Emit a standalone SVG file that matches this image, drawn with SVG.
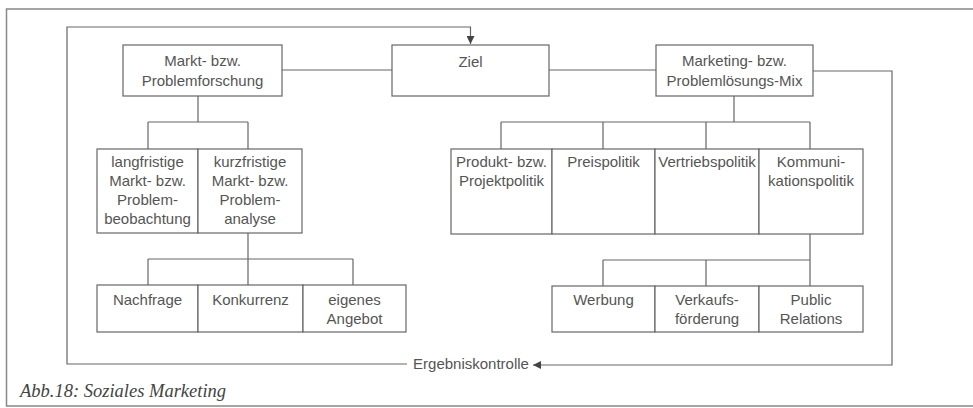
<svg xmlns="http://www.w3.org/2000/svg" width="973" height="408" viewBox="0 0 973 408">
<style>
.frame{fill:none;stroke:#888;stroke-width:1.5}
.box{fill:#fff;stroke:#666;stroke-width:1.2}
.ln{fill:none;stroke:#666;stroke-width:1.2}
.t{font-family:"Liberation Sans",Arial,sans-serif;font-size:15px;fill:#555;text-anchor:middle}
.cap{font-family:"Liberation Serif","Times New Roman",serif;font-size:18.5px;font-style:italic;fill:#444}
</style>
<defs>
<marker id="ah" viewBox="0 0 8 8" refX="8" refY="4" markerWidth="8" markerHeight="8" markerUnits="userSpaceOnUse" orient="auto">
<path d="M0,0 L8,4 L0,8 Z" fill="#444"/>
</marker>
</defs>
<rect width="973" height="408" fill="#fff"/>
<rect class="frame" x="6.5" y="9" width="1000" height="397"/>

<g id="connectors">
<path class="ln" d="M407,364 H67 V27 H470.5 V44" marker-end="url(#ah)"/>
<path class="ln" d="M282,70 H392"/>
<path class="ln" d="M549,70 H656"/>
<path class="ln" d="M813,71 H892 V365 H533" marker-end="url(#ah)"/>
<path class="ln" d="M198,96 V122 M148,122 H248 M148,122 V149 M248,122 V149"/>
<path class="ln" d="M248,233 V259 M148,259 H353 M148,259 V285 M248,259 V285 M353,259 V285"/>
<path class="ln" d="M734,96 V122 M501,122 H810 M501,122 V149 M603,122 V149 M706,122 V149 M810,122 V149"/>
<path class="ln" d="M810,234 V260 M603,260 H810 M603,260 V286 M706,260 V286 M810,260 V286"/>
</g>

<g id="markt">
<rect class="box" x="123" y="45" width="159" height="51"/>
<text class="t" x="202.5" y="66">Markt- bzw.</text>
<text class="t" x="202.5" y="86">Problemforschung</text>
</g>
<g id="ziel">
<rect class="box" x="392" y="45" width="157" height="51"/>
<text class="t" x="470.5" y="67">Ziel</text>
</g>
<g id="mix">
<rect class="box" x="656" y="45" width="157" height="51"/>
<text class="t" x="734.5" y="66">Marketing- bzw.</text>
<text class="t" x="734.5" y="86">Problemlösungs-Mix</text>
</g>

<g id="langfristig">
<rect class="box" x="97" y="149" width="101" height="84"/>
<text class="t" x="147.5" y="167">langfristige</text>
<text class="t" x="147.5" y="186">Markt- bzw.</text>
<text class="t" x="147.5" y="205">Problem-</text>
<text class="t" x="147.5" y="224">beobachtung</text>
</g>
<g id="kurzfristig">
<rect class="box" x="198" y="149" width="104" height="84"/>
<text class="t" x="250" y="167">kurzfristige</text>
<text class="t" x="250" y="186">Markt- bzw.</text>
<text class="t" x="250" y="205">Problem-</text>
<text class="t" x="250" y="224">analyse</text>
</g>

<g id="nachfrage">
<rect class="box" x="97" y="285" width="101" height="47"/>
<text class="t" x="147.5" y="305">Nachfrage</text>
</g>
<g id="konkurrenz">
<rect class="box" x="198" y="285" width="105" height="47"/>
<text class="t" x="250.5" y="305">Konkurrenz</text>
</g>
<g id="angebot">
<rect class="box" x="303" y="285" width="103" height="47"/>
<text class="t" x="354.5" y="305">eigenes</text>
<text class="t" x="354.5" y="324">Angebot</text>
</g>

<g id="produkt">
<rect class="box" x="451" y="149" width="101" height="85"/>
<text class="t" x="501.5" y="167">Produkt- bzw.</text>
<text class="t" x="501.5" y="186">Projektpolitik</text>
</g>
<g id="preis">
<rect class="box" x="552" y="149" width="103" height="85"/>
<text class="t" x="603.5" y="167">Preispolitik</text>
</g>
<g id="vertrieb">
<rect class="box" x="655" y="149" width="104" height="85"/>
<text class="t" x="707" y="167">Vertriebspolitik</text>
</g>
<g id="kommunikation">
<rect class="box" x="759" y="149" width="104" height="85"/>
<text class="t" x="811" y="167">Kommuni-</text>
<text class="t" x="811" y="186">kationspolitik</text>
</g>

<g id="werbung">
<rect class="box" x="552" y="286" width="103" height="46"/>
<text class="t" x="603.5" y="305">Werbung</text>
</g>
<g id="verkauf">
<rect class="box" x="655" y="286" width="104" height="46"/>
<text class="t" x="707" y="305">Verkaufs-</text>
<text class="t" x="707" y="324">förderung</text>
</g>
<g id="pr">
<rect class="box" x="759" y="286" width="104" height="46"/>
<text class="t" x="811" y="305">Public</text>
<text class="t" x="811" y="324">Relations</text>
</g>

<g id="ergebnis">
<text class="t" x="471" y="369">Ergebniskontrolle</text>
</g>

<text class="cap" x="20" y="397">Abb.18: Soziales Marketing</text>
</svg>
